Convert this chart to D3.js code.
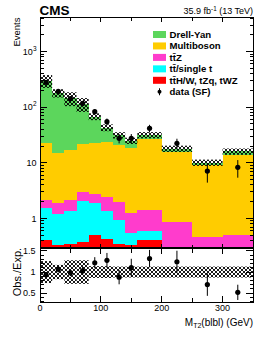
<!DOCTYPE html>
<html>
<head>
<meta charset="utf-8">
<script src="https://cdn.jsdelivr.net/npm/d3@7"></script>
<style>
  body { margin: 0; background: #fff; }
  svg { display: block; font-family: "Liberation Sans", Arial, Helvetica, sans-serif; }
</style>
</head>
<body>
<svg id="chart" width="266" height="347"></svg>
<script>
// bin edges of MT2(blbl) in GeV
const binEdges = [0, 20, 40, 60, 80, 100, 120, 140, 160, 200, 250, 300, 350];

// background components (events per bin), bottom of the stack first
const ttHWZq = [0.41, 0.33, 0.34, 0.38, 0.50, 0.42, 0.35, 0.33, 0.41, 0, 0, 0];
const ttSingleT = [1.14, 0.85, 1.01, 1.69, 1.36, 0.93, 0.58, 0.21, 0.19, 0, 0, 0];
const ttZ = [0.59, 0.68, 0.79, 0.87, 0.84, 1.07, 1.01, 0.69, 0.81, 0.85, 0.47, 0.50];
const multiboson = [20.3, 12.9, 14.9, 18.6, 20.3, 21.2, 19.1, 17.5, 25.6, 14.95, 8.63, 13.3];
const drellYan = [277.6, 165.2, 128, 92.5, 45, 19.4, 10.4, 6.3, 4.6, 2.2, 1.0, 2.2];

// relative uncertainty of the prediction (hatched band)
const bkgUnc = [0.26, 0.17, 0.28, 0.28, 0.14, 0.14, 0.13, 0.13, 0.13, 0.13, 0.13, 0.13];

// data (SF) and its error
const dataVals = [280, 192, 143, 117, 83, 55, 27.6, 27.6, 41.7, 22.4, 7.1, 8.3];
const dataErr = [17, 14, 12, 11, 9, 7.5, 5.3, 5.3, 6.5, 4.7, 2.7, 2.9];

const legendNames = ["Drell-Yan", "Multiboson", "tt\u0304Z", "tt\u0304/single t", "tt\u0304H/W, tZq, tWZ"];
const legendColors = ["#5cd65c", "#ffcc00", "#ff3ccc", "#00ffff", "#ff0000"];

const xTicks = [0, 50, 100, 150, 200, 250, 300, 350];
const xLabels = [0, 100, 200, 300];
const yMajor = [1, 10, 100, 1000];
const ratioMajor = [0.5, 1, 1.5];

const left = 40, right = 253;
const mainTop = 17.5, mainBot = 247.5;
const ratioTop = 248, ratioBot = 302;

const svg = d3.select("#chart");

const x = d3.scaleLinear().domain([0, 350]).range([left, right]);
const y = d3.scaleLog().domain([0.3, 4100]).range([mainBot, mainTop]);
const yr = d3.scaleLinear().domain([0.29, 1.57]).range([ratioBot, ratioTop]);

// stacked components, colours follow the legend order reversed
const comps = [ttHWZq, ttSingleT, ttZ, multiboson, drellYan];
const compColors = ["#ff0000", "#00ffff", "#ff3ccc", "#ffcc00", "#5cd65c"];
const bins = d3.range(binEdges.length - 1).map(i => {
  let cum = 0;
  const parts = comps.map((c, k) => {
    const lo = cum;
    cum += c[i];
    return {lo: lo, hi: cum, color: compColors[k], v: c[i]};
  });
  return {i: i, x0: binEdges[i], x1: binEdges[i + 1], parts: parts, total: cum,
          data: dataVals[i], err: dataErr[i], unc: bkgUnc[i]};
});

// hatch pattern
const defs = svg.append("defs");
const pat = defs.append("pattern")
  .attr("id", "hatch")
  .attr("patternUnits", "userSpaceOnUse")
  .attr("width", 4).attr("height", 4);
pat.append("path").attr("d", "M0,0L4,4M4,0L0,4M-1,3L1,5M3,-1L5,1M-1,1L1,-1M3,5L5,3")
  .attr("stroke", "#000").attr("stroke-width", 0.9).attr("fill", "none");

defs.append("clipPath").attr("id", "clipMain")
  .append("rect").attr("x", left).attr("y", mainTop).attr("width", right - left).attr("height", mainBot - mainTop);
defs.append("clipPath").attr("id", "clipRatio")
  .append("rect").attr("x", left).attr("y", ratioTop).attr("width", right - left).attr("height", ratioBot - ratioTop);

// main panel
const gMain = svg.append("g").attr("clip-path", "url(#clipMain)");
const ylo = v => Math.max(v, 0.3);

bins.forEach(b => {
  gMain.selectAll(null)
    .data(b.parts.filter(p => p.v > 0))
    .enter()
    .append("rect")
    .attr("shape-rendering", "crispEdges")
    .attr("x", x(b.x0))
    .attr("width", x(b.x1) - x(b.x0))
    .attr("y", p => y(p.hi))
    .attr("height", p => y(ylo(p.lo)) - y(p.hi))
    .attr("fill", p => p.color);
});

gMain.selectAll(".band")
  .data(bins)
  .enter()
  .append("rect")
  .attr("class", "band")
  .attr("x", d => x(d.x0))
  .attr("width", d => x(d.x1) - x(d.x0))
  .attr("y", d => y(d.total * (1 + d.unc)))
  .attr("height", d => y(d.total * (1 - d.unc)) - y(d.total * (1 + d.unc)))
  .attr("fill", "url(#hatch)");

gMain.selectAll(".errbar")
  .data(bins)
  .enter()
  .append("line")
  .attr("x1", d => x((d.x0 + d.x1) / 2)).attr("x2", d => x((d.x0 + d.x1) / 2))
  .attr("y1", d => y(d.data + d.err)).attr("y2", d => y(d.data - d.err))
  .attr("stroke", "#000").attr("stroke-width", 1);

gMain.selectAll(".pt")
  .data(bins)
  .enter()
  .append("circle")
  .attr("cx", d => x((d.x0 + d.x1) / 2))
  .attr("cy", d => y(d.data))
  .attr("r", 2.6)
  .attr("fill", "#000");

// ratio panel
const gRatio = svg.append("g").attr("clip-path", "url(#clipRatio)");

gRatio.selectAll(".rband")
  .data(bins)
  .enter()
  .append("rect")
  .attr("x", d => x(d.x0))
  .attr("width", d => x(d.x1) - x(d.x0))
  .attr("y", d => yr(1 + d.unc))
  .attr("height", d => yr(1 - d.unc) - yr(1 + d.unc))
  .attr("fill", "url(#hatch)");

gRatio.selectAll(".rerr")
  .data(bins)
  .enter()
  .append("line")
  .attr("x1", d => x((d.x0 + d.x1) / 2)).attr("x2", d => x((d.x0 + d.x1) / 2))
  .attr("y1", d => yr((d.data + d.err) / d.total)).attr("y2", d => yr((d.data - d.err) / d.total))
  .attr("stroke", "#000").attr("stroke-width", 1);

gRatio.selectAll(".rpt")
  .data(bins)
  .enter()
  .append("circle")
  .attr("cx", d => x((d.x0 + d.x1) / 2))
  .attr("cy", d => yr(d.data / d.total))
  .attr("r", 2.6)
  .attr("fill", "#000");

// frames and ticks
const axes = svg.append("g").attr("stroke", "#000").attr("stroke-width", 1).attr("shape-rendering", "crispEdges");

[[mainTop, mainBot], [ratioTop, ratioBot]].forEach(([t, b]) => {
  axes.append("rect").attr("x", left).attr("y", t).attr("width", right - left).attr("height", b - t).attr("fill", "none");
});

// x ticks, main (short) and ratio (longer)
xTicks.forEach(v => {
  const len = v % 100 === 0 ? 4 : 3;
  axes.append("line").attr("x1", x(v)).attr("x2", x(v)).attr("y1", mainBot).attr("y2", mainBot - len);
  axes.append("line").attr("x1", x(v)).attr("x2", x(v)).attr("y1", mainTop).attr("y2", mainTop + len);
  const rlen = v % 100 === 0 ? 6 : 4.5;
  axes.append("line").attr("x1", x(v)).attr("x2", x(v)).attr("y1", ratioBot).attr("y2", ratioBot - rlen);
  axes.append("line").attr("x1", x(v)).attr("x2", x(v)).attr("y1", ratioTop).attr("y2", ratioTop + rlen);
});

// log y ticks
y.ticks().forEach(v => {
  const major = yMajor.includes(v);
  const len = major ? 7 : 3.5;
  axes.append("line").attr("x1", left).attr("x2", left + len).attr("y1", y(v)).attr("y2", y(v));
  axes.append("line").attr("x1", right).attr("x2", right - len).attr("y1", y(v)).attr("y2", y(v));
});

// ratio y ticks
d3.range(3, 16).map(k => k / 10).forEach(v => {
  const major = ratioMajor.some(m => Math.abs(m - v) < 1e-6);
  const len = major ? 7 : 3.5;
  axes.append("line").attr("x1", left).attr("x2", left + len).attr("y1", yr(v)).attr("y2", yr(v));
  axes.append("line").attr("x1", right).attr("x2", right - len).attr("y1", yr(v)).attr("y2", yr(v));
});

// tick labels
const labels = svg.append("g").attr("fill", "#000").attr("font-size", 9);

yMajor.forEach(v => {
  const p = Math.round(Math.log10(v));
  const t = labels.append("text").attr("x", 36.5).attr("y", y(v) + 3.3).attr("text-anchor", "end");
  if (p < 2) {
    t.text(String(v));
  } else {
    t.text("10");
    t.append("tspan").attr("font-size", 6.5).attr("dy", -4).text(p);
  }
});

ratioMajor.forEach(v => {
  labels.append("text").attr("x", 35.5).attr("y", yr(v) + 3.3).attr("text-anchor", "end").text(v);
});

xLabels.forEach(v => {
  labels.append("text").attr("x", x(v)).attr("y", 311).attr("text-anchor", "middle").text(v);
});

// titles
svg.append("text").attr("x", 39.5).attr("y", 14.5)
  .attr("font-size", 13.5).attr("font-weight", "bold").text("CMS");

const lumi = svg.append("text").attr("x", 253).attr("y", 14).attr("font-size", 9).attr("text-anchor", "end");
lumi.append("tspan").text("35.9 fb");
lumi.append("tspan").attr("font-size", 6.3).attr("dy", -3.5).text("-1");
lumi.append("tspan").attr("dy", 3.5).text(" (13 TeV)");

svg.append("text").attr("transform", "translate(20,17.5) rotate(-90)")
  .attr("text-anchor", "end").attr("font-size", 9.5).text("Events");

svg.append("text").attr("transform", `translate(20.5,${yr(1)}) rotate(-90)`)
  .attr("text-anchor", "middle").attr("font-size", 11).text("Obs./Exp.");

const xt = svg.append("text").attr("x", 253).attr("y", 325.5).attr("font-size", 10).attr("text-anchor", "end");
xt.append("tspan").text("M");
xt.append("tspan").attr("font-size", 7).attr("dy", 2).text("T2");
xt.append("tspan").attr("dy", -2).text("(blbl) (GeV)");

// legend
const leg = svg.append("g").attr("font-size", 9.6).attr("font-weight", "bold");
legendNames.forEach((name, i) => {
  const cy = 34.5 + i * 11.45;
  leg.append("rect").attr("x", 153).attr("y", cy - 3.5).attr("width", 13).attr("height", 7).attr("fill", legendColors[i]);
  leg.append("text").attr("x", 169.5).attr("y", cy + 3.4).text(name);
});
const dcy = 34.5 + 5 * 11.45;
leg.append("line").attr("x1", 159.5).attr("x2", 159.5).attr("y1", dcy - 3.5).attr("y2", dcy + 3.5).attr("stroke", "#000");
leg.append("circle").attr("cx", 159.5).attr("cy", dcy).attr("r", 2).attr("fill", "#000");
leg.append("text").attr("x", 169.5).attr("y", dcy + 3.4).text("data (SF)");
</script>
</body>
</html>
